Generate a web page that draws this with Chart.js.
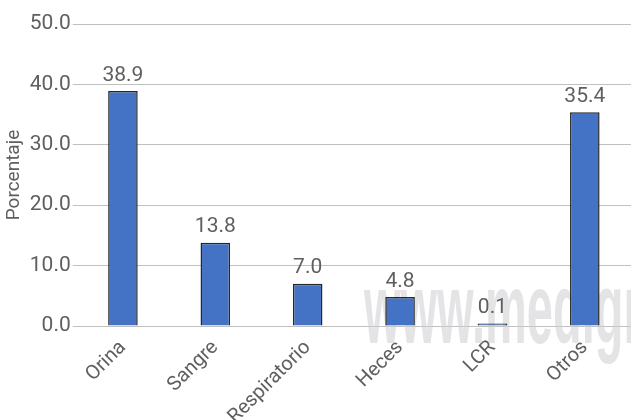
<!DOCTYPE html>
<html>
<head>
<meta charset="utf-8">
<script src="https://cdn.jsdelivr.net/npm/chart.js@4/dist/chart.umd.min.js"></script>
<style>
  html, body { margin: 0; padding: 0; background: #fff; }
  #wrap { width: 631px; height: 420px; position: relative; }
</style>
</head>
<body>
<div id="wrap"><canvas id="chart"></canvas></div>
<script>
const categories = ["Orina", "Sangre", "Respiratorio", "Heces", "LCR", "Otros"];
const porcentajes = [38.9, 13.8, 7.0, 4.8, 0.1, 35.4];
const yTicks = [0, 10, 20, 30, 40, 50];

// watermark behind the bars
const watermark = {
    id: "watermark",
    beforeDatasetsDraw(chart) {
        const ctx = chart.ctx;
        ctx.save();
        ctx.translate(364, 343);
        ctx.scale(0.47, 1);
        ctx.font = "bold 100px 'Liberation Sans'";
        ctx.fillStyle = "rgba(205,206,210,0.55)";
        ctx.textBaseline = "alphabetic";
        ctx.fillText("www.medigraphic", 0, 0);
        ctx.restore();
    }
};

// values above the bars
const valueLabels = {
    id: "valueLabels",
    afterDatasetsDraw(chart) {
        const ctx = chart.ctx;
        const meta = chart.getDatasetMeta(0);
        ctx.save();
        ctx.font = "21px Roboto";
        ctx.fillStyle = "#5f5f5f";
        ctx.textAlign = "center";
        ctx.textBaseline = "bottom";
        meta.data.forEach(function (bar, i) {
            ctx.fillText(porcentajes[i].toFixed(1), bar.x, bar.y - 5);
        });
        ctx.restore();
    }
};

new Chart(document.getElementById("chart"), {
    type: "bar",
    data: {
        labels: categories,
        datasets: [{
            data: porcentajes,
            backgroundColor: "#4472C4",
            borderColor: "#262626",
            borderWidth: 1.5,
            minBarLength: 2.5,
            barPercentage: 0.32,
            categoryPercentage: 1
        }]
    },
    options: {
        responsive: true,
        maintainAspectRatio: false,
        animation: false,
        layout: { padding: { top: 24, right: 0, left: 1, bottom: 0 } },
        plugins: { legend: { display: false }, tooltip: { enabled: false } },
        scales: {
            x: {
                afterFit(scale) { scale.height = 94; },
                grid: { display: false },
                border: { color: "#c0c0c0" },
                ticks: {
                    color: "#5f5f5f",
                    font: { family: "Roboto", size: 20 },
                    minRotation: 45,
                    maxRotation: 45,
                    padding: 2
                }
            },
            y: {
                min: 0,
                max: 50,
                afterBuildTicks(axis) { axis.ticks = yTicks.map(v => ({ value: v })); },
                grid: { color: "#c0c0c0", tickLength: 4, drawTicks: true },
                border: { display: false },
                ticks: {
                    color: "#5f5f5f",
                    font: { family: "Roboto", size: 21 },
                    padding: 2,
                    callback: v => v.toFixed(1)
                },
                title: {
                    display: true,
                    text: "Porcentaje",
                    color: "#5f5f5f",
                    font: { family: "Roboto", size: 19 },
                    padding: 2
                }
            }
        }
    },
    plugins: [watermark, valueLabels]
});
</script>
</body>
</html>
